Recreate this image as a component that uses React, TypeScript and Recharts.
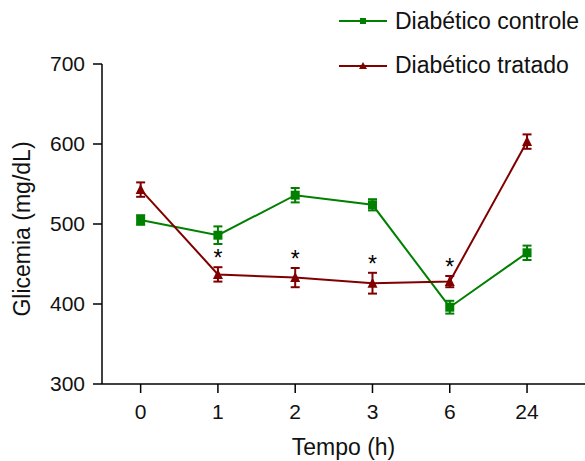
import {
  ComposedChart,
  Line,
  Scatter,
  XAxis,
  YAxis,
  ErrorBar,
} from "recharts";

const timeLabels = ["0", "1", "2", "3", "6", "24"];
const controleMean = [505, 486, 536, 524, 396, 464];
const controleSem = [6, 11, 9, 7, 8, 9];
const tratadoMean = [543, 437, 433, 426, 428, 603];
const tratadoSem = [9, 9, 12, 13, 7, 9];
const significant = [false, true, true, true, true, false];
const yTicks = [300, 400, 500, 600, 700];

const GREEN = "#008000";
const RED = "#800000";
const FONT = "'Liberation Sans', Arial, Helvetica, sans-serif";

const data = timeLabels.map((t, i) => ({
  idx: i,
  time: t,
  controle: controleMean[i],
  controleErr: controleSem[i],
  tratado: tratadoMean[i],
  tratadoErr: tratadoSem[i],
}));

const starData = data
  .filter((_, i) => significant[i])
  .map((d) => ({ idx: d.idx, top: d.tratado + d.tratadoErr }));

const SquareDot = (props: any) => {
  const { cx, cy, index } = props;
  if (cx == null || cy == null) return null;
  return <rect key={`sq-${index}`} x={cx - 4.5} y={cy - 4.5} width={9} height={9} fill={GREEN} />;
};

const TriangleDot = (props: any) => {
  const { cx, cy, index } = props;
  if (cx == null || cy == null) return null;
  return (
    <polygon
      key={`tr-${index}`}
      points={`${cx},${cy - 5.5} ${cx + 5},${cy + 4.5} ${cx - 5},${cy + 4.5}`}
      fill={RED}
    />
  );
};

const Star = (props: any) => {
  const { cx, cy } = props;
  return (
    <text x={cx} y={cy - 1} textAnchor="middle" fontSize={23} fontFamily={FONT} fill="#000">
      *
    </text>
  );
};

const YLabel = (props: any) => {
  const vb = props.viewBox || { y: 64, height: 320 };
  const cy = vb.y + vb.height / 2 + 5;
  return (
    <text
      x={22}
      y={cy}
      transform={`rotate(-90, 22, ${cy})`}
      textAnchor="middle"
      dominantBaseline="central"
      fontSize={23}
      fontFamily={FONT}
      fill="#111"
    >
      Glicemia (mg/dL)
    </text>
  );
};

const XLabel = (props: any) => {
  const vb = props.viewBox || { x: 102, width: 483 };
  return (
    <text x={vb.x + vb.width / 2} y={455} textAnchor="middle" fontSize={23} fontFamily={FONT} fill="#111">
      Tempo (h)
    </text>
  );
};

const legendItems = [
  { name: "Diabético controle", color: GREEN, marker: "square" },
  { name: "Diabético tratado", color: RED, marker: "triangle" },
];

// legend drawn as an overlay so it doesn't push the plot area down
const ChartLegend = () => (
  <div
    style={{
      position: "absolute",
      top: -1,
      left: 339,
      fontFamily: FONT,
      fontSize: 23,
      color: "#111",
    }}
  >
    {legendItems.map((item) => (
      <div key={item.name} style={{ display: "flex", alignItems: "center", height: 44.5 }}>
        <svg width={48} height={14} style={{ marginRight: 8 }}>
          <line x1={0} y1={7} x2={48} y2={7} stroke={item.color} strokeWidth={2} />
          {item.marker === "square" ? (
            <rect x={21} y={4} width={6} height={6} fill={item.color} />
          ) : (
            <polygon points="24,3 28,10 20,10" fill={item.color} />
          )}
        </svg>
        <span style={{ whiteSpace: "nowrap" }}>{item.name}</span>
      </div>
    ))}
  </div>
);

export default function App() {
  return (
    <div style={{ position: "absolute", left: 0, top: 0, width: 585, height: 461, background: "#fff" }}>
      <ComposedChart
        width={585}
        height={461}
        data={data}
        margin={{ top: 64, right: 0, bottom: 0, left: 42 }}
      >
        <XAxis
          type="number"
          dataKey="idx"
          domain={[-0.5, 5.75]}
          ticks={[0, 1, 2, 3, 4, 5]}
          tickFormatter={(v: number) => timeLabels[v] ?? ""}
          height={77}
          tickSize={9}
          tickMargin={11}
          stroke="#000"
          strokeWidth={1.5}
          tick={{ fill: "#111", fontSize: 21, fontFamily: FONT }}
          label={<XLabel />}
        />
        <YAxis
          type="number"
          domain={[300, 700]}
          ticks={yTicks}
          width={60}
          tickSize={9}
          tickMargin={8}
          stroke="#000"
          strokeWidth={1.5}
          tick={{ fill: "#111", fontSize: 21, fontFamily: FONT }}
          label={<YLabel />}
        />
        <Line
          type="linear"
          dataKey="controle"
          name="Diabético controle"
          stroke={GREEN}
          strokeWidth={2}
          dot={<SquareDot />}
          isAnimationActive={false}
        >
          <ErrorBar dataKey="controleErr" width={4.5} stroke={GREEN} strokeWidth={2} direction="y" />
        </Line>
        <Line
          type="linear"
          dataKey="tratado"
          name="Diabético tratado"
          stroke={RED}
          strokeWidth={2}
          dot={<TriangleDot />}
          isAnimationActive={false}
        >
          <ErrorBar dataKey="tratadoErr" width={4.5} stroke={RED} strokeWidth={2} direction="y" />
        </Line>
        <Scatter
          data={starData}
          dataKey="top"
          shape={<Star />}
          legendType="none"
          isAnimationActive={false}
        />
      </ComposedChart>
      <ChartLegend />
    </div>
  );
}
